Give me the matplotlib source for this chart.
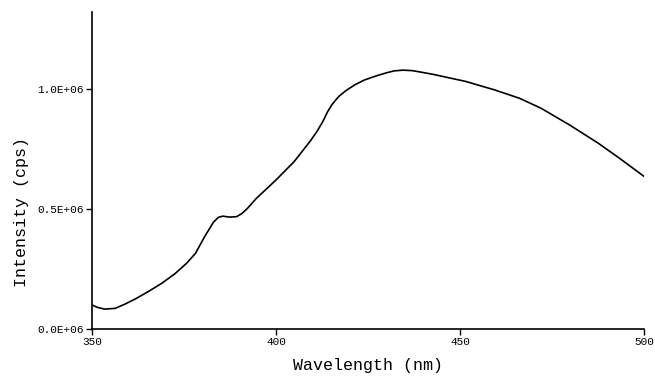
import matplotlib
matplotlib.use("Agg")
import matplotlib.pyplot as plt

# emission spectrum
wavelength = [350.0, 351.5, 353.4, 356.3, 359.0, 362.1, 365.5, 368.9, 372.5,
              375.7, 378.1, 380.6, 383.0, 384.3, 385.5, 387.4, 389.3, 390.8,
              392.2, 394.7, 397.5, 400.0, 404.9, 409.2, 411.0, 412.7, 414.0,
              415.2, 417.0, 419.0, 421.4, 424.0, 427.2, 430.0, 432.1, 434.5,
              437.0, 440.0, 442.8, 447.0, 451.5, 459.3, 466.1, 471.9, 479.7,
              487.5, 493.3, 500.0]
intensity = [0.100, 0.090, 0.083, 0.086, 0.104, 0.128, 0.158, 0.190, 0.230,
             0.274, 0.315, 0.385, 0.445, 0.465, 0.470, 0.466, 0.468, 0.482,
             0.502, 0.545, 0.585, 0.621, 0.697, 0.781, 0.820, 0.864, 0.905,
             0.935, 0.968, 0.993, 1.017, 1.037, 1.054, 1.067, 1.075, 1.078,
             1.076, 1.068, 1.060, 1.046, 1.031, 0.996, 0.961, 0.920, 0.850,
             0.774, 0.711, 0.635]
intensity = [v * 1e6 for v in intensity]

xticks = [350, 400, 450, 500]
yticks = [0.0, 0.5e6, 1.0e6]
ytick_labels = ["0.0E+06", "0.5E+06", "1.0E+06"]

plt.rcParams['font.family'] = ['Liberation Mono', 'DejaVu Sans Mono']

fig = plt.figure(figsize=(6.55, 3.88), dpi=100)
ax = fig.add_axes([0.1405, 0.152, 0.843, 0.817])

ax.plot(wavelength, intensity, color='black', linewidth=1.2)

ax.set_xlim(350, 500)
ax.set_ylim(0, 1.32e6)
ax.set_xticks(xticks)
ax.set_xticklabels([str(t) for t in xticks])
ax.set_yticks(yticks)
ax.set_yticklabels(ytick_labels)
ax.tick_params(direction='out', length=4, width=1, labelsize=8, pad=2)

for side in ['top', 'right']:
    ax.spines[side].set_visible(False)
for side in ['left', 'bottom']:
    ax.spines[side].set_linewidth(1.2)

ax.set_xlabel('Wavelength (nm)', fontsize=12, labelpad=8)
ax.set_ylabel('Intensity (cps)', fontsize=12)
ax.yaxis.set_label_coords(-0.115, 0.37)

fig.savefig('out.png', dpi=100)
